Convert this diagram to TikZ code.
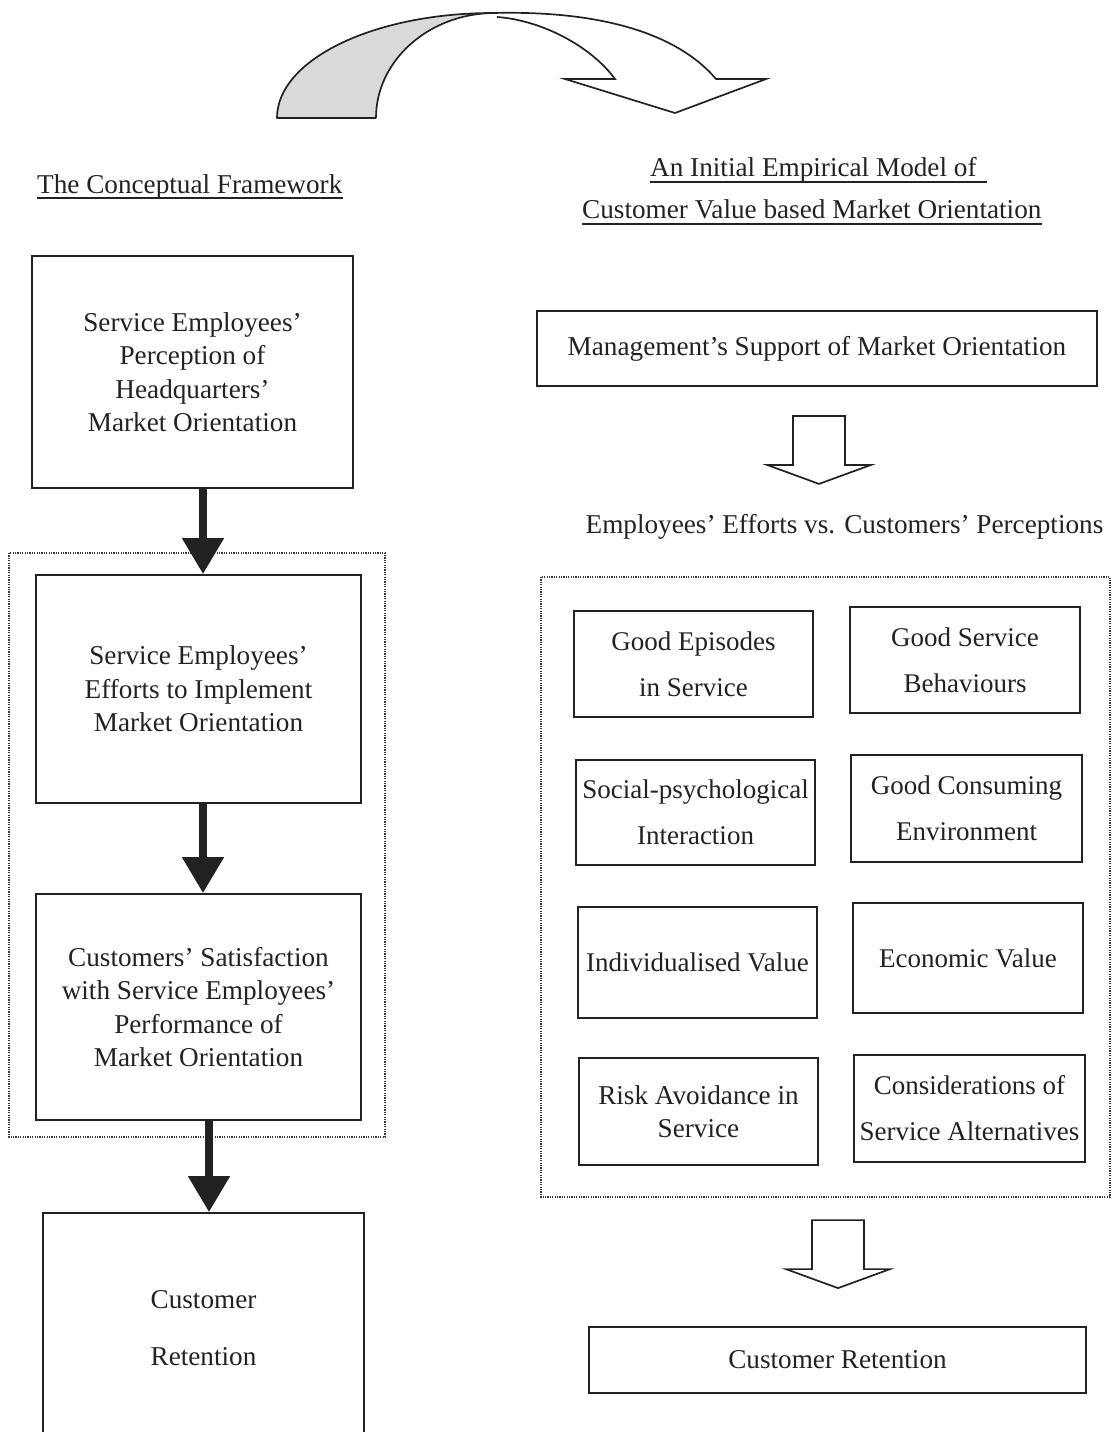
\documentclass[tikz,border=0pt]{standalone}
\usepackage{fontspec}
\setmainfont{Liberation Serif}
\usetikzlibrary{arrows.meta,calc}

\definecolor{ink}{HTML}{222222}
\definecolor{ribbongray}{HTML}{D9D9D9}

\tikzset{
  every node/.style={font=\fontsize{27.2}{33.5}\selectfont, text=ink},
  box/.style={draw=ink, line width=1.8pt, inner sep=0pt, align=center},
  pairbox/.style={box, font=\fontsize{27}{46}\selectfont},
  groupframe/.style={draw=ink!90, line width=2.4pt, dash pattern=on 1.2pt off 1.2pt},
  bigarrow/.style={draw=ink, line width=8pt, -{Triangle[width=40pt,length=36pt]}},
  titletext/.style={inner sep=0pt},
  underline/.style={draw=ink, line width=1.5pt},
  hollowdown/.pic={
    \draw[ink, line width=1.7pt, fill=white, line join=miter]
      (-26,0) -- (26,0) -- (26,49) -- (52,49) -- (0,68) -- (-52,49) -- (-26,49) -- cycle;
  }
}

\begin{document}
\begin{tikzpicture}[x=1pt, y=-1pt]
\useasboundingbox (0,0) rectangle (1114,1432);
\fill[white] (0,0) rectangle (1114,1432);

% twisted ribbon arrow at the top
\filldraw[fill=ribbongray, draw=ink, line width=1.7pt, line join=round]
  (376,118) -- (277,118)
  .. controls (277,60) and (373,13) .. (493,13)
  .. controls (428,14) and (376,61) .. (376,118);
\draw[ink, line width=1.7pt, fill=white, line join=miter]
  (493,13) .. controls (615,10) and (683,40) .. (716,79)
  -- (766,79) -- (675,113) -- (565,79) -- (615,79)
  .. controls (590,45) and (540,20) .. (497,17);

% column titles
\node[titletext, anchor=base west] (tleft) at (37,193) {The Conceptual Framework};
\draw[underline] ($(tleft.base west)+(0,5)$) -- ($(tleft.base east)+(0,5)$);

\node[titletext, anchor=base west] (tright1) at (650,176) {An Initial Empirical Model of};
\draw[underline] ($(tright1.base west)+(0,6)$) -- ($(tright1.base east)+(10,6)$);
\node[titletext, anchor=base west] (tright2) at (582,218) {Customer Value based Market Orientation};
\draw[underline] ($(tright2.base west)+(0,6)$) -- ($(tright2.base east)+(0,6)$);

% conceptual framework column
\draw[groupframe] (9,553) rectangle (385,1137);

\node[box, minimum width=321pt, minimum height=232pt] (hq) at (192.5,372)
  {Service Employees’\\Perception of\\Headquarters’\\Market Orientation};
\node[box, minimum width=325pt, minimum height=228pt] (effort) at (198.5,689)
  {Service Employees’\\Efforts to Implement\\Market Orientation};
\node[box, minimum width=325pt, minimum height=226pt] (satis) at (198.5,1007)
  {Customers’ Satisfaction\\with Service Employees’\\Performance of\\Market Orientation};
\node[box, minimum width=321pt, minimum height=230pt, font=\fontsize{27.2}{57}\selectfont]
  (retleft) at (203.5,1328) {Customer\\Retention};

\coordinate (axA) at (203,0);
\coordinate (axB) at (209,0);
\draw[bigarrow] (hq.south -| axA) -- (effort.north -| axA);
\draw[bigarrow] (effort.south -| axA) -- (satis.north -| axA);
\draw[bigarrow] (satis.south -| axB) -- (retleft.north -| axB);

% empirical model column
\node[box, minimum width=560pt, minimum height=75pt] (mgmt) at (817,348.5)
  {Management’s Support of Market Orientation};
\pic (downA) at ($(mgmt.south)+(2,29)$) {hollowdown};

\node[titletext] (effvs) at (844.5,527) {Employees’ Efforts vs. Customers’ Perceptions};

\draw[groupframe] (541,577) rectangle (1110,1197);

\node[pairbox, minimum width=239pt, minimum height=106pt] (epis) at (693.5,664)
  {Good Episodes\\in Service};
\node[pairbox, minimum width=230pt, minimum height=106pt] (behav) at (965,660)
  {Good Service\\Behaviours};
\node[pairbox, minimum width=239pt, minimum height=105pt] (social) at (695.5,812.5)
  {Social-psychological\\Interaction};
\node[pairbox, minimum width=231pt, minimum height=107pt] (consum) at (966.5,808.5)
  {Good Consuming\\Environment};
\node[pairbox, minimum width=239pt, minimum height=111pt] (indiv) at (697.5,962.5)
  {Individualised Value};
\node[pairbox, minimum width=230pt, minimum height=110pt] (econ) at (968,958)
  {Economic Value};
\node[box, minimum width=239pt, minimum height=107pt] (risk) at (698.5,1111.5)
  {Risk Avoidance in\\Service};
\node[pairbox, minimum width=231pt, minimum height=107pt] (alter) at (969.5,1108.5)
  {Considerations of\\Service Alternatives};

\node[box, minimum width=497pt, minimum height=66pt] (retright) at (837.5,1360)
  {Customer Retention};
\pic (downB) at ($(retright.north)+(0.5,-106)$) {hollowdown};
\end{tikzpicture}
\end{document}
